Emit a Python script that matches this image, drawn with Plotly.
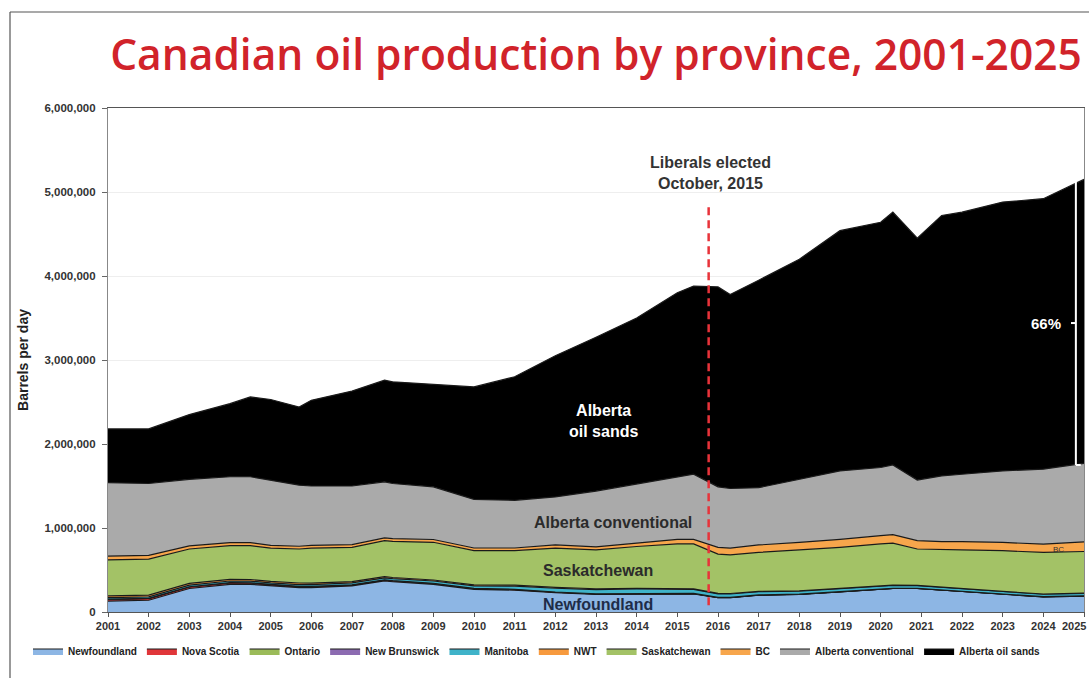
import plotly.graph_objects as go

# ---- data (thousand barrels per day) ----
years = [2001, 2002, 2003, 2004, 2004.5, 2005, 2005.7, 2006, 2007, 2007.8, 2008, 2009,
         2010, 2011, 2012, 2013, 2014, 2015, 2015.4, 2016, 2016.3, 2017, 2018, 2019,
         2020, 2020.3, 2020.9, 2021.5, 2022, 2023, 2024, 2025]

newfoundland = [130, 140, 280, 330, 330, 310, 290, 290, 310, 370, 360, 330, 270, 260, 230, 210,
                215, 220, 215, 170, 170, 200, 210, 240, 270, 280, 280, 260, 240, 210, 180, 190]
nova_scotia = [20, 20, 18, 16, 15, 14, 13, 12, 11, 10, 10, 9, 8, 7, 5, 4,
               4, 3, 3, 2, 2, 1, 0, 0, 0, 0, 0, 0, 0, 0, 0, 0]
ontario = [3, 3, 3, 3, 3, 3, 3, 3, 2, 2, 2, 2, 2, 2, 2, 2,
           2, 2, 2, 2, 2, 2, 2, 2, 2, 2, 2, 2, 2, 2, 2, 2]
new_brunswick = [0, 0, 0, 0, 0, 0, 0, 0, 1, 1, 1, 1, 1, 1, 1, 1,
                 1, 1, 1, 0, 0, 0, 0, 0, 0, 0, 0, 0, 0, 0, 0, 0]
manitoba = [17, 18, 19, 20, 20, 20, 21, 21, 22, 24, 25, 27, 30, 38, 45, 50,
            52, 50, 48, 42, 40, 38, 36, 35, 34, 34, 33, 32, 32, 31, 30, 30]
nwt = [22, 21, 20, 19, 19, 18, 18, 17, 16, 14, 13, 12, 11, 11, 10, 10,
       9, 8, 7, 6, 6, 5, 5, 5, 4, 3, 3, 2, 2, 2, 2, 2]
saskatchewan = [428, 428, 410, 402, 403, 395, 405, 417, 408, 429, 429, 449, 408, 411, 467, 463,
                497, 526, 534, 468, 460, 464, 487, 488, 500, 501, 432, 444, 464, 485, 496, 496]
bc = [45, 45, 38, 35, 35, 33, 33, 33, 33, 33, 33, 33, 32, 32, 38, 35,
      40, 55, 55, 80, 80, 88, 90, 95, 100, 100, 100, 98, 98, 98, 98, 115]
alberta_conv = [875, 855, 792, 785, 785, 777, 727, 707, 697, 667, 657, 627, 578, 568, 572, 665,
                700, 735, 775, 720, 710, 682, 750, 815, 810, 830, 720, 782, 802, 852, 892, 935]
alberta_oil_sands = [640, 650, 770, 870, 950, 960, 930, 1020, 1130, 1210, 1210, 1220, 1340, 1470, 1680, 1830,
                     1980, 2200, 2240, 2380, 2310, 2470, 2620, 2860, 2920, 3010, 2880, 3100, 3120, 3200, 3220, 3380]

series_names = ["Newfoundland", "Nova Scotia", "Ontario", "New Brunswick", "Manitoba",
                "NWT", "Saskatchewan", "BC", "Alberta conventional", "Alberta oil sands"]
series_values = [newfoundland, nova_scotia, ontario, new_brunswick, manitoba,
                 nwt, saskatchewan, bc, alberta_conv, alberta_oil_sands]
series_colors = ["#8db6e4", "#e0363a", "#9bbb59", "#8c6bb1", "#3fb3c9",
                 "#f79a3e", "#a3c266", "#f7a64c", "#aaaaaa", "#000000"]

x_ticks = list(range(2001, 2026))
y_ticks = [0, 1000000, 2000000, 3000000, 4000000, 5000000, 6000000]
election_x = 2015.77

W, H = 1089, 678
ML, MR, MT, MB = 108, 5, 108, 66

fig = go.Figure()
for name, vals, col in zip(series_names, series_values, series_colors):
    fig.add_trace(go.Scatter(
        x=years, y=[v * 1000 for v in vals], name=name, mode="lines",
        stackgroup="one", fillcolor=col,
        line=dict(color="#1a1a1a", width=1.2),
        hoverinfo="x+y+name",
    ))

base_font = "Arial, Liberation Sans, sans-serif"

pw, ph = W - ML - MR, H - MT - MB
def px(xp):
    return (xp - ML) / pw
def py(yp):
    return (H - MB - yp) / ph

shapes = [
    dict(type="line", xref="paper", yref="paper", x0=px(10), x1=px(10), y0=py(12), y1=py(H + 5),
         line=dict(color="#555555", width=1.2)),
    dict(type="line", xref="paper", yref="paper", x0=px(10), x1=px(W + 5), y0=py(12), y1=py(12),
         line=dict(color="#555555", width=1.2)),
    dict(type="line", xref="x", yref="y", x0=election_x, x1=election_x, y0=80000, y1=4850000,
         line=dict(color="#e8333a", width=2.5, dash="8px,5px")),
    dict(type="line", xref="x", yref="y", x0=2024.8, x1=2024.8, y0=1750000, y1=5120000,
         line=dict(color="#ffffff", width=2)),
    dict(type="line", xref="x", yref="y", x0=2024.8, x1=2024.92, y0=1750000, y1=1750000,
         line=dict(color="#ffffff", width=2)),
    dict(type="line", xref="x", yref="y", x0=2024.68, x1=2024.8, y0=3440000, y1=3440000,
         line=dict(color="#ffffff", width=2)),
]

tick_font = dict(family=base_font, size=11, weight="bold", color="#333333")
label_font = dict(family=base_font, size=16, weight="bold")
annotations = [
    dict(x=2013.18, y=2270000, text="Alberta<br>oil sands", showarrow=False,
         font=dict(label_font, color="#ffffff")),
    dict(x=2013.43, y=1060000, text="Alberta conventional", showarrow=False,
         font=dict(label_font, color="#2b2b2b")),
    dict(x=2013.06, y=490000, text="Saskatchewan", showarrow=False,
         font=dict(label_font, color="#2b2b2b")),
    dict(x=2013.06, y=95000, text="Newfoundland", showarrow=False,
         font=dict(label_font, color="#1e2c48")),
    dict(x=2015.82, y=5230000, text="Liberals elected<br>October, 2015", showarrow=False,
         font=dict(label_font, color="#333333")),
    dict(x=2024.06, y=3440000, text="66%", showarrow=False,
         font=dict(family=base_font, size=15, weight="bold", color="#ffffff")),
    dict(x=2024.38, y=750000, text="BC", showarrow=False,
         font=dict(family=base_font, size=8, color="#333333")),
    # last year label kept fully inside the page
    dict(x=px(1088), xref="paper", y=py(626), yref="paper", xanchor="right", yanchor="middle",
         text=str(x_ticks[-1]), showarrow=False, font=tick_font),
]

fig.update_layout(
    width=W, height=H,
    margin=dict(l=ML, r=MR, t=MT, b=MB),
    paper_bgcolor="#ffffff", plot_bgcolor="#ffffff",
    title=dict(text="Canadian oil production by province, 2001-2025",
               x=596 / W, xanchor="center", y=1 - 55 / H, yanchor="middle",
               font=dict(family="Open Sans, sans-serif", size=42.5, weight=600, color="#d1232a")),
    xaxis=dict(range=[2001, 2025], tickvals=x_ticks,
               ticktext=[str(t) for t in x_ticks[:-1]] + [""],
               automargin=False,
               showgrid=False, zeroline=False, showline=True, linecolor="#555555", linewidth=1.2,
               mirror=True, ticks="outside", ticklen=4, tickcolor="#555555",
               ticklabeloverflow="allow", tickfont=tick_font),
    yaxis=dict(range=[0, 6000000], tickvals=y_ticks, tickformat=",d", automargin=False,
               showgrid=True, gridcolor="#eeeeee", zeroline=False, showline=True,
               linecolor="#888888", linewidth=1.2, mirror=True, ticks="outside", ticklen=5,
               tickcolor="#666666", ticklabelstandoff=4,
               tickfont=dict(family=base_font, size=11.5, weight="bold", color="#333333"),
               title=dict(text="Barrels per day", standoff=12,
                          font=dict(family=base_font, size=14, weight="bold", color="#222222"))),
    legend=dict(orientation="h", x=px(28), xanchor="left", y=py(651), yanchor="middle",
                font=dict(family=base_font, size=10, weight="bold", color="#222222"),
                itemwidth=30, tracegroupgap=0, traceorder="normal", bgcolor="rgba(0,0,0,0)"),
    shapes=shapes,
    annotations=annotations,
    showlegend=True,
)

fig.write_html("out.html")
